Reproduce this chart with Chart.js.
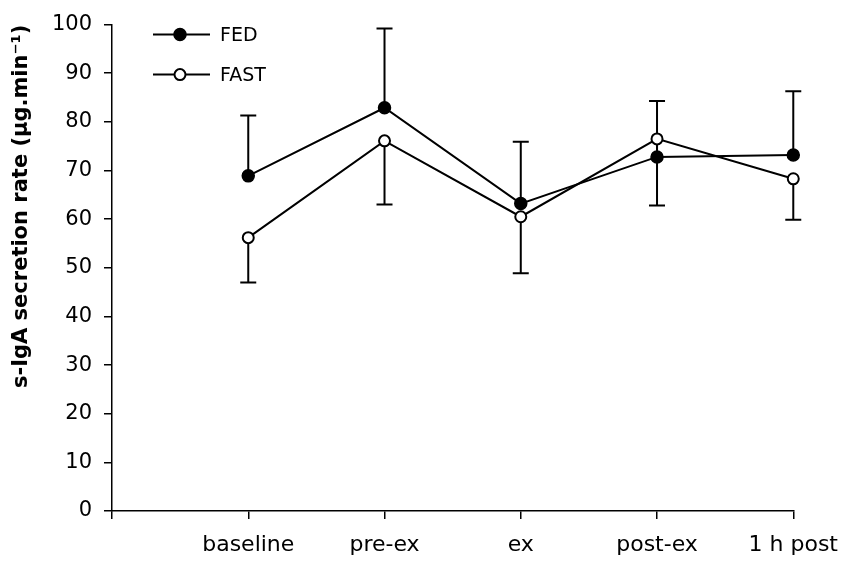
<!DOCTYPE html>
<html>
<head>
<meta charset="utf-8">
<script src="https://cdn.jsdelivr.net/npm/chart.js@4"></script>
<style>
html, body { margin: 0; padding: 0; background: #fff; }
#wrap { width: 851px; height: 563px; }
</style>
</head>
<body>
<div id="wrap"><canvas id="c" width="851" height="563"></canvas></div>
<script>
// ---- data ----
const categories = ['', 'baseline', 'pre-ex', 'ex', 'post-ex', '1 h post'];
const seriesNames = ['FED', 'FAST'];
const fedMean  = [null, 68.9, 82.9, 63.2, 72.8, 73.2];
const fedSD    = [null, 12.4, 16.3, 12.7, 11.5, 13.1];   // drawn upward
const fastMean = [null, 56.2, 76.1, 60.5, 76.5, 68.3];
const fastSD   = [null,  9.2, 13.1, 11.6, 13.7,  8.4];   // drawn downward
const yMin = 0, yMax = 100, yStep = 10;
const yAxisTitle = 's-IgA secretion rate (\u03BCg.min\u207B\u00B9)';

const FONT = 'DejaVu Sans, Liberation Sans, Arial, sans-serif';

const errorBarPlugin = {
  id: 'errorBars',
  beforeDatasetsDraw(chart) {
    const ctx = chart.ctx;
    const ys = chart.scales.y;
    chart.data.datasets.forEach((ds, di) => {
      const meta = chart.getDatasetMeta(di);
      const dir = ds.errorDir;
      ds.data.forEach((v, i) => {
        if (v == null || ds.errors[i] == null) return;
        const pt = meta.data[i];
        const x = pt.x;
        const y0 = ys.getPixelForValue(v);
        const y1 = ys.getPixelForValue(v + dir * ds.errors[i]);
        ctx.save();
        ctx.strokeStyle = '#000';
        ctx.lineWidth = 2;
        ctx.beginPath();
        ctx.moveTo(x, y0);
        ctx.lineTo(x, y1);
        ctx.moveTo(x - 8, y1);
        ctx.lineTo(x + 8, y1);
        ctx.stroke();
        ctx.restore();
      });
    });
  }
};

const legendPlugin = {
  id: 'insetLegend',
  afterDraw(chart) {
    const ctx = chart.ctx;
    const ca = chart.chartArea;
    chart.data.datasets.forEach((ds, di) => {
      const y = ca.top + 10 + di * 40;
      const x0 = ca.left + 41, x1 = ca.left + 98, xm = ca.left + 68;
      ctx.save();
      ctx.strokeStyle = '#000';
      ctx.lineWidth = 2;
      ctx.beginPath();
      ctx.moveTo(x0, y);
      ctx.lineTo(x1, y);
      ctx.stroke();
      ctx.beginPath();
      ctx.arc(xm, y, ds.pointRadius, 0, Math.PI * 2);
      ctx.fillStyle = ds.pointBackgroundColor;
      ctx.fill();
      ctx.lineWidth = ds.pointBorderWidth;
      ctx.stroke();
      ctx.fillStyle = '#000';
      ctx.font = '19px ' + FONT;
      ctx.textAlign = 'left';
      ctx.textBaseline = 'middle';
      ctx.fillText(ds.label, ca.left + 108, y + 1);
      ctx.restore();
    });
  }
};

new Chart(document.getElementById('c'), {
  type: 'line',
  data: {
    labels: categories,
    datasets: [
      {
        label: seriesNames[0],
        data: fedMean,
        errors: fedSD,
        errorDir: 1,
        borderColor: '#000',
        borderWidth: 2,
        pointRadius: 6,
        pointBackgroundColor: '#000',
        pointBorderColor: '#000',
        pointBorderWidth: 1.5,
        fill: false,
        tension: 0,
        spanGaps: false
      },
      {
        label: seriesNames[1],
        data: fastMean,
        errors: fastSD,
        errorDir: -1,
        borderColor: '#000',
        borderWidth: 2,
        pointRadius: 5.5,
        pointBackgroundColor: '#fff',
        pointBorderColor: '#000',
        pointBorderWidth: 2,
        fill: false,
        tension: 0,
        spanGaps: false
      }
    ]
  },
  options: {
    responsive: false,
    animation: false,
    devicePixelRatio: 1,
    layout: { padding: { top: 22, right: 48, bottom: 0, left: 0 } },
    plugins: { legend: { display: false }, tooltip: { enabled: false } },
    scales: {
      x: {
        type: 'category',
        offset: false,
        grid: { drawOnChartArea: false, drawTicks: true, tickLength: 8, color: '#000', lineWidth: 1.5 },
        border: { display: true, color: '#000', width: 1.5 },
        ticks: { color: '#000', font: { family: FONT, size: 22 }, padding: 13, autoSkip: false, maxRotation: 0 },
        afterFit(scale) { scale.height = 52; }
      },
      y: {
        min: yMin,
        max: yMax,
        grid: { drawOnChartArea: false, drawTicks: true, tickLength: 8, color: '#000', lineWidth: 1.5 },
        border: { display: true, color: '#000', width: 1.5 },
        ticks: { stepSize: yStep, color: '#000', font: { family: FONT, size: 21 }, padding: 12 },
        title: {
          display: true,
          text: yAxisTitle,
          align: 'end',
          color: '#000',
          font: { family: FONT, size: 21, weight: 'bold' },
          padding: { top: 9, bottom: 0 }
        },
        afterFit(scale) { scale.width = 112; }
      }
    }
  },
  plugins: [errorBarPlugin, legendPlugin]
});
</script>
</body>
</html>
